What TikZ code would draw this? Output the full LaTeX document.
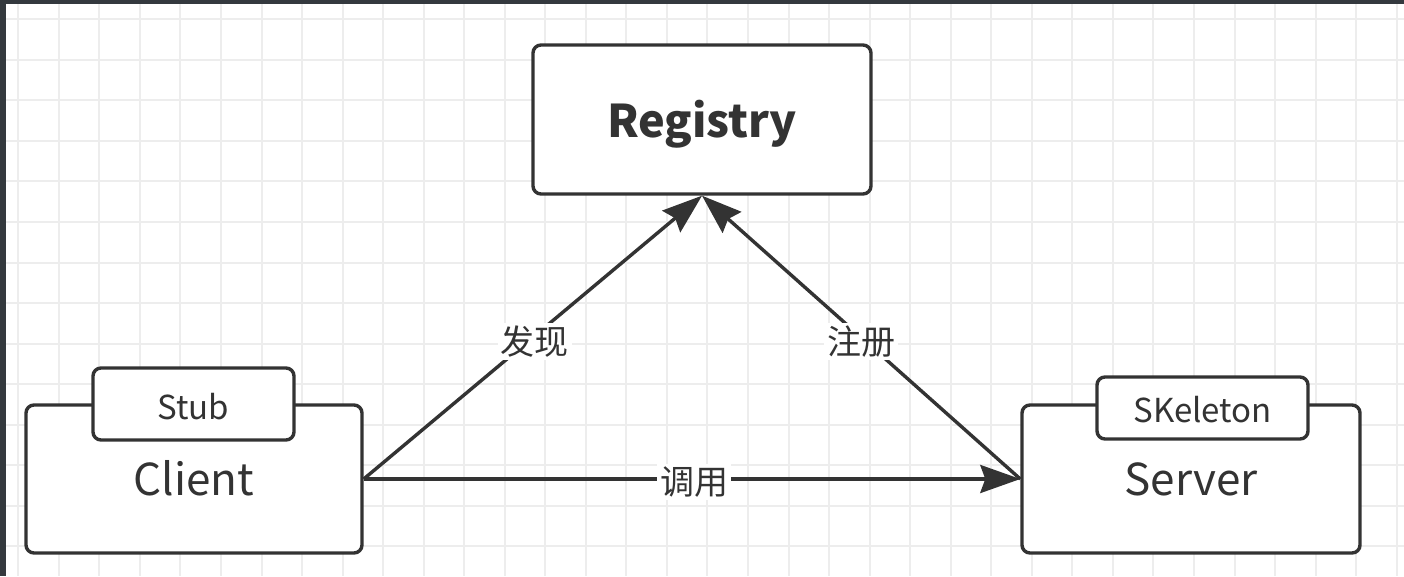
\documentclass[tikz,border=0pt]{standalone}
\usepackage{fontspec}
\setmainfont{Noto Sans CJK SC}
\usetikzlibrary{arrows.meta}
\definecolor{ink}{HTML}{333333}
\definecolor{gridline}{HTML}{EDEDED}
\definecolor{frame}{HTML}{34393E}
\tikzset{
  box/.style={draw=ink, line width=3.4pt, rounded corners=8pt, fill=white, inner sep=0pt},
  bigtext/.style={text=ink, font=\fontsize{44}{48}\selectfont, inner sep=0pt, anchor=base},
  smalltext/.style={text=ink, font=\fontsize{33}{36}\selectfont, inner sep=0pt, anchor=base},
  edgelabel/.style={text=ink, font=\fontsize{34}{36}\selectfont, fill=white, inner sep=3pt},
  link/.style={draw=ink, line width=3.4pt, -{Stealth[length=40pt, width=28pt, inset=5pt]}}
}
\begin{document}
\begin{tikzpicture}[x=1pt, y=-1pt]
  \useasboundingbox (0,0) rectangle (1404,576);
  % canvas and grid
  \fill[white] (0,0) rectangle (1404,576);
  \foreach \k in {0,...,34} {
    \draw[gridline, line width=2pt] ({18.3+40.54*\k},0) -- ({18.3+40.54*\k},576);
  }
  \foreach \k in {0,...,13} {
    \draw[gridline, line width=2pt] (0,{19.3+40.54*\k}) -- (1404,{19.3+40.54*\k});
  }
  % window frame
  \fill[frame] (0,0) rectangle (1404,4);
  \fill[frame] (0,0) rectangle (6,576);

  % Registry
  \node[box, minimum width=338pt, minimum height=149pt] (registry) at (702,119.5) {};
  \node[bigtext, font=\fontsize{45}{48}\selectfont\bfseries] (registrytext) at (702,137) {Registry};

  % Client with its stub
  \node[box, minimum width=336pt, minimum height=148pt] (client) at (194,479) {};
  \node[box, minimum width=201pt, minimum height=72pt] (stub) at (193.5,404) {};
  \node[smalltext] (stubtext) at (193.5,419) {Stub};
  \node[bigtext] (clienttext) at (194,495) {Client};

  % Server with its skeleton
  \node[box, minimum width=338pt, minimum height=148pt] (server) at (1191,479) {};
  \node[box, minimum width=211pt, minimum height=62pt] (skel) at (1202.5,408) {};
  \node[smalltext] (skeltext) at (1202.5,422.5) {SKeleton};
  \node[bigtext] (servertext) at (1191,495) {Server};

  % connectors
  \draw[link] (client.east) -- node[edgelabel, pos=0.5, xshift=2pt, yshift=-4pt] (find) {发现} (registry.south);
  \draw[link] (server.west) -- node[edgelabel, pos=0.5, yshift=-4pt] (reg) {注册} (registry.south);
  \draw[link] (client.east) -- node[edgelabel, pos=0.5, xshift=2pt, yshift=-3pt] (call) {调用} (server.west);
\end{tikzpicture}
\end{document}
